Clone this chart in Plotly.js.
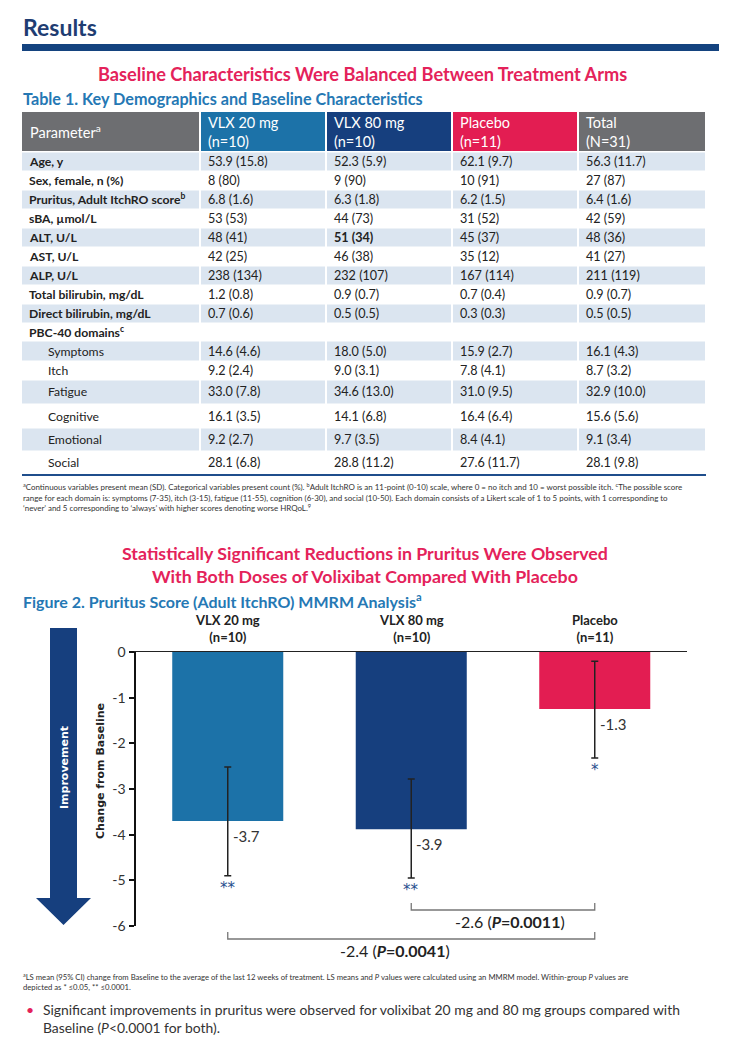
<!DOCTYPE html>
<html><head><meta charset="utf-8">
<script src="https://cdn.plot.ly/plotly-3.0.1.min.js"></script>
<style>html,body{margin:0;padding:0;background:#fff;} #chart{width:742px;height:1050px;}</style>
</head><body><div id="chart"></div>
<script>
// ---------------- DATA ----------------
const tableHeaders = ['Parameter<sup>a</sup>', 'VLX 20 mg<br>(n=10)', 'VLX 80 mg<br>(n=10)', 'Placebo<br>(n=11)', 'Total<br>(N=31)'];
const rowLabels = ['Age, y','Sex, female, n (%)','Pruritus, Adult ItchRO score<sup>b</sup>','sBA, µmol/L','ALT, U/L','AST, U/L','ALP, U/L','Total bilirubin, mg/dL','Direct bilirubin, mg/dL','PBC-40 domains<sup>c</sup>','Symptoms','Itch','Fatigue','Cognitive','Emotional','Social'];
const vlx20Col = ['53.9 (15.8)','8 (80)','6.8 (1.6)','53 (53)','48 (41)','42 (25)','238 (134)','1.2 (0.8)','0.7 (0.6)','','14.6 (4.6)','9.2 (2.4)','33.0 (7.8)','16.1 (3.5)','9.2 (2.7)','28.1 (6.8)'];
const vlx80Col = ['52.3 (5.9)','9 (90)','6.3 (1.8)','44 (73)','51 (34)','46 (38)','232 (107)','0.9 (0.7)','0.5 (0.5)','','18.0 (5.0)','9.0 (3.1)','34.6 (13.0)','14.1 (6.8)','9.7 (3.5)','28.8 (11.2)'];
const placeboCol = ['62.1 (9.7)','10 (91)','6.2 (1.5)','31 (52)','45 (37)','35 (12)','167 (114)','0.7 (0.4)','0.3 (0.3)','','15.9 (2.7)','7.8 (4.1)','31.0 (9.5)','16.4 (6.4)','8.4 (4.1)','27.6 (11.7)'];
const totalCol = ['56.3 (11.7)','27 (87)','6.4 (1.6)','42 (59)','48 (36)','41 (27)','211 (119)','0.9 (0.7)','0.5 (0.5)','','16.1 (4.3)','8.7 (3.2)','32.9 (10.0)','15.6 (5.6)','9.1 (3.4)','28.1 (9.8)'];

const groups = ['VLX 20 mg','VLX 80 mg','Placebo'];
const groupN = ['(n=10)','(n=10)','(n=11)'];
const lsMean = [-3.7, -3.88, -1.25];
const meanLabels = ['-3.7','-3.9','-1.3'];
const ciUpper = [-2.52, -2.78, -0.2];
const ciLower = [-4.9, -4.95, -2.32];
const sigMarks = ['**','**','*'];
const yTicks = [0,-1,-2,-3,-4,-5,-6];
const yTickLabels = ['0','-1','-2','-3','-4','-5','-6'];
const compFrom = [1, 0];
const compTo = [2, 2];
const compDiff = ['-2.6','-2.4'];
const compP = ['0.0011','0.0041'];

// ---------------- LAYOUT HELPERS ----------------
const W = 742, H = 1050;
const X = p => p / W;
const Y = p => 1 - p / H;
const FONT = 'Lato, "Open Sans", sans-serif';
const DARK = '#2b2b2b';
const PINK = '#e4225a';
const TEAL = '#2578b4';
const NAVY = '#163f7e';
const BLUE = '#1c72a8';
const RED = '#e31d52';
const GREY = '#6d6e71';
const SHADE = '#dbe5f0';

const shapes = [];
const ann = [];
function rect(x0, y0, x1, y1, color) {
  shapes.push({type:'rect', xref:'paper', yref:'paper', x0:X(x0), x1:X(x1), y0:Y(y1), y1:Y(y0), fillcolor:color, line:{width:0}, layer:'below'});
}
function text(t, x, y, opts) {
  opts = opts || {};
  ann.push(Object.assign({text:t, xref:'paper', yref:'paper', x:X(x), y:Y(y), xanchor:'left', yanchor:'middle', align:'left', showarrow:false,
    font:{family:FONT, size:12, color:DARK}}, opts));
}

// Headings
text('Results', 21, 27, {font:{family:FONT, size:23, color:'#1f3d72', weight:'bold'}});
shapes.push({type:'rect', xref:'paper', yref:'paper', x0:X(22), x1:X(719), y0:Y(51), y1:Y(44), fillcolor:'#14437f', line:{width:0}});
text('Baseline Characteristics Were Balanced Between Treatment Arms', 362, 74, {xanchor:'center', align:'center', font:{family:FONT, size:18.2, color:PINK, weight:'bold'}});
text('Table 1. Key Demographics and Baseline Characteristics', 21, 98, {font:{family:FONT, size:16.2, color:TEAL, weight:'bold'}});

// ---------------- TABLE ----------------
const colEdges = [22, 200, 326, 452, 578, 706];
const headerColors = [GREY, BLUE, NAVY, RED, GREY];
const headTop = 112, headBot = 151;
const rowH = [19,19,19,19,19,19,19,19,19,18,20,19,24,24,23,23];
const dataCols = [vlx20Col, vlx80Col, placeboCol, totalCol];
const boldCells = {'4,2': true};
const indentRows = {10:1, 11:1, 12:1, 13:1, 14:1, 15:1};

for (let c = 0; c < 5; c++) {
  rect(colEdges[c] + (c ? 1 : 0), headTop, colEdges[c+1] - 1, headBot, headerColors[c]);
  text(tableHeaders[c], colEdges[c] + 6, (headTop + headBot) / 2, {font:{family:FONT, size:14.5, color:'#ffffff'}});
}
let rowTop = 152;
for (let r = 0; r < rowLabels.length; r++) {
  const bot = rowTop + rowH[r];
  const mid = (rowTop + bot) / 2;
  if (r % 2 === 0) {
    for (let c = 0; c < 5; c++) rect(colEdges[c] + (c ? 1 : 0), rowTop + 0.5, colEdges[c+1] - 1, bot - 0.5, SHADE);
  }
  const ind = indentRows[r] ? 24 : 5;
  text(rowLabels[r], colEdges[0] + ind, mid, {font:{family:FONT, size:12.2, color:'#222', weight: indentRows[r] ? 'normal' : 'bold'}});
  for (let c = 0; c < 4; c++) {
    const v = dataCols[c][r];
    if (!v) continue;
    text(v, colEdges[c+1] + 6, mid, {font:{family:FONT, size:12.6, color:'#222', weight: boldCells[r + ',' + (c+1)] ? 'bold' : 'normal'}});
  }
  rowTop = bot;
}
shapes.push({type:'line', xref:'paper', yref:'paper', x0:X(22), x1:X(706), y0:Y(rowTop+1), y1:Y(rowTop+1), line:{color:'#1f4e8c', width:2}});

text("<sup>a</sup>Continuous variables present mean (SD). Categorical variables present count (%). <sup>b</sup>Adult ItchRO is an 11-point (0-10) scale, where 0 = no itch and 10 = worst possible itch. <sup>c</sup>The possible score<br>range for each domain is: symptoms (7-35), itch (3-15), fatigue (11-55), cognition (6-30), and social (10-50). Each domain consists of a Likert scale of 1 to 5 points, with 1 corresponding to<br>‘never’ and 5 corresponding to ‘always’ with higher scores denoting worse HRQoL.<sup>9</sup>",
  21, 497, {font:{family:FONT, size:7.95, color:'#333'}});

// ---------------- FIGURE ----------------
text('Statistically Significant Reductions in Pruritus Were Observed<br>With Both Doses of Volixibat Compared With Placebo', 365, 564, {xanchor:'center', align:'center', font:{family:FONT, size:17.8, color:PINK, weight:'bold'}});
text('Figure 2. Pruritus Score (Adult ItchRO) MMRM Analysis<sup>a</sup>', 21, 600, {font:{family:FONT, size:16, color:TEAL, weight:'bold'}});

// arrow
const ap = [[50,628],[77,628],[77,898],[91,898],[63.5,925],[36,898],[50,898]];
shapes.push({type:'path', xref:'paper', yref:'paper', path:'M' + ap.map(p => X(p[0]) + ',' + Y(p[1])).join(' L') + ' Z', fillcolor:NAVY, line:{width:0}});
text('Improvement', 64, 768, {xanchor:'center', textangle:-90, font:{family:'"DejaVu Sans", sans-serif', size:11, color:'#ffffff', weight:'bold'}});
text('Change from Baseline', 100, 771, {xanchor:'center', textangle:-90, font:{family:'"DejaVu Sans", sans-serif', size:11, color:'#222', weight:'bold'}});

const idx = groups.map((g, i) => i);
const trace = {
  type:'bar', x: idx, y: lsMean, width: 0.605,
  marker:{color:[BLUE, NAVY, RED], line:{width:0}},
  error_y:{type:'data', symmetric:false,
    array: lsMean.map((m, i) => ciUpper[i] - m),
    arrayminus: lsMean.map((m, i) => m - ciLower[i]),
    color:'#222', thickness:1.5, width:3.5},
  hoverinfo:'skip', showlegend:false
};

for (let i = 0; i < groups.length; i++) {
  ann.push({text: groups[i] + '<br>' + groupN[i], xref:'x', yref:'y', x:i, y:0, xanchor:'center', yanchor:'bottom', yshift:5, showarrow:false,
    font:{family:FONT, size:13, color:'#222', weight:'bold'}});
  ann.push({text: meanLabels[i], xref:'x', yref:'y', x:i, y:lsMean[i], xanchor:'left', yanchor:'top', xshift:3, yshift:-4, showarrow:false,
    font:{family:FONT, size:15, color:'#333'}});
  ann.push({text: sigMarks[i], xref:'x', yref:'y', x:i, y:ciLower[i], xanchor:'center', yanchor:'top', yshift:-1, showarrow:false,
    font:{family:'"DejaVu Sans", sans-serif', size:15, color:'#1f4e8c'}});
}
const brkY = [910, 939];
const labY = [922, 950];
for (let k = 0; k < compFrom.length; k++) {
  const x0 = compFrom[k], x1 = compTo[k];
  shapes.push({type:'path', xref:'x', yref:'paper',
    path:'M' + x0 + ',' + Y(brkY[k] - 7) + ' L' + x0 + ',' + Y(brkY[k]) + ' L' + x1 + ',' + Y(brkY[k]) + ' L' + x1 + ',' + Y(brkY[k] - 7),
    line:{color:'#777', width:1.3}});
  ann.push({text: compDiff[k] + ' (<b><i>P</i>=' + compP[k] + '</b>)', xref:'x', yref:'paper', x: k === 0 ? 1.54 : 0.91, y: Y(labY[k]),
    xanchor:'center', yanchor:'middle', showarrow:false, font:{family:FONT, size:16, color:'#222'}});
}

text("<sup>a</sup>LS mean (95% CI) change from Baseline to the average of the last 12 weeks of treatment. LS means and <i>P</i> values were calculated using an MMRM model. Within-group <i>P</i> values are<br>depicted as * ≤0.05, ** ≤0.0001.",
  21, 982, {font:{family:FONT, size:7.7, color:'#333'}});
text('•', 24, 1009, {font:{family:FONT, size:14, color:PINK}});
text('Significant improvements in pruritus were observed for volixibat 20 mg and 80 mg groups compared with<br>Baseline (<i>P</i><0.0001 for both).', 41, 1018, {font:{family:FONT, size:13.9, color:'#333'}});

const layout = {
  width: W, height: H,
  margin:{l:0, r:0, t:0, b:0},
  paper_bgcolor:'#fff', plot_bgcolor:'rgba(0,0,0,0)',
  xaxis:{domain:[X(136), X(686.5)], range:[-0.5, 2.5], side:'top', showline:true, linecolor:'#222', linewidth:1.5,
    showticklabels:false, ticks:'', showgrid:false, zeroline:false, fixedrange:true},
  yaxis:{domain:[Y(926), Y(652)], range:[-6, 0], showline:true, linecolor:'#111', linewidth:2.5, ticks:'outside', ticklen:5, tickwidth:2, tickcolor:'#111',
    tickvals:yTicks, ticktext:yTickLabels, tickfont:{family:FONT, size:14, color:'#333'}, showgrid:false, zeroline:false, fixedrange:true},
  shapes: shapes, annotations: ann, bargap:0.4
};
Plotly.newPlot('chart', [trace], layout, {displayModeBar:false, staticPlot:true});
</script></body></html>
